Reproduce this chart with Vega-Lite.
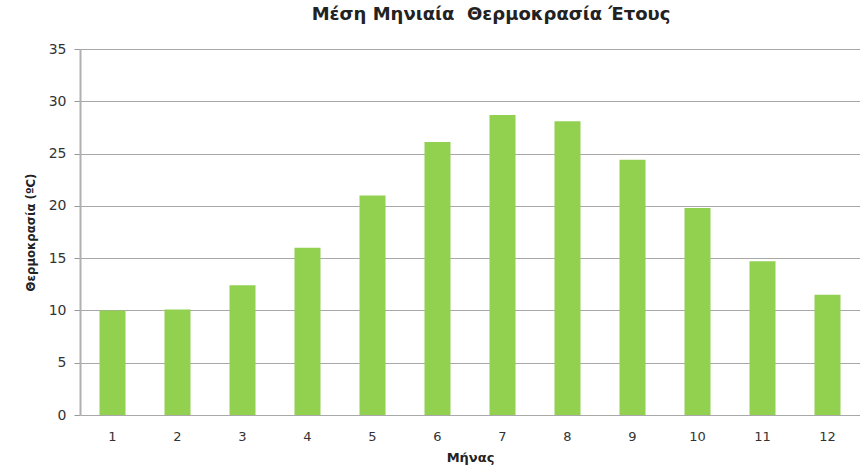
{
  "$schema": "https://vega.github.io/schema/vega-lite/v6.json",
  "autosize": {"type": "none"},
  "padding": {"left": 80, "top": 49, "right": 0, "bottom": 54},
  "width": 780,
  "height": 366,
  "background": "white",
  "title": {
    "text": "Μέση Μηνιαία\u00a0 Θερμοκρασία Έτους",
    "font": "DejaVu Sans",
    "fontSize": 18,
    "fontWeight": "bold",
    "color": "#222222",
    "anchor": "middle",
    "dx": 21,
    "offset": 18
  },
  "data": {
    "values": [
      {"month": 1, "temp": 10.0},
      {"month": 2, "temp": 10.1},
      {"month": 3, "temp": 12.4},
      {"month": 4, "temp": 16.0},
      {"month": 5, "temp": 21.0},
      {"month": 6, "temp": 26.1},
      {"month": 7, "temp": 28.7},
      {"month": 8, "temp": 28.1},
      {"month": 9, "temp": 24.4},
      {"month": 10, "temp": 19.8},
      {"month": 11, "temp": 14.7},
      {"month": 12, "temp": 11.5}
    ]
  },
  "mark": {"type": "bar", "color": "#92D050"},
  "encoding": {
    "x": {
      "field": "month",
      "type": "ordinal",
      "scale": {"paddingInner": 0.6, "paddingOuter": 0.3},
      "axis": {
        "title": "Μήνας",
        "titleFont": "DejaVu Sans",
        "titleFontSize": 13,
        "titleFontWeight": "bold",
        "titleColor": "#222222",
        "titlePadding": 8,
        "labelAngle": 0,
        "labelFont": "DejaVu Sans",
        "labelFontSize": 13,
        "labelColor": "#333333",
        "labelPadding": 15,
        "ticks": false,
        "domain": false,
        "grid": false
      }
    },
    "y": {
      "field": "temp",
      "type": "quantitative",
      "scale": {"domain": [0, 35], "nice": false},
      "axis": {
        "title": "Θερμοκρασία (ºC)",
        "titleFont": "DejaVu Sans Condensed",
        "titleFontSize": 13,
        "titleFontWeight": "bold",
        "titleColor": "#222222",
        "titlePadding": 11,
        "values": [0, 5, 10, 15, 20, 25, 30, 35],
        "labelFont": "DejaVu Sans",
        "labelFontSize": 14,
        "labelColor": "#333333",
        "labelPadding": 8,
        "tickColor": "#999999",
        "tickSize": 6,
        "domainColor": "#b0b0b0",
        "domainWidth": 2,
        "gridColor": "#a8a8a8",
        "gridWidth": 1.2
      }
    }
  },
  "config": {"view": {"stroke": null}}
}
